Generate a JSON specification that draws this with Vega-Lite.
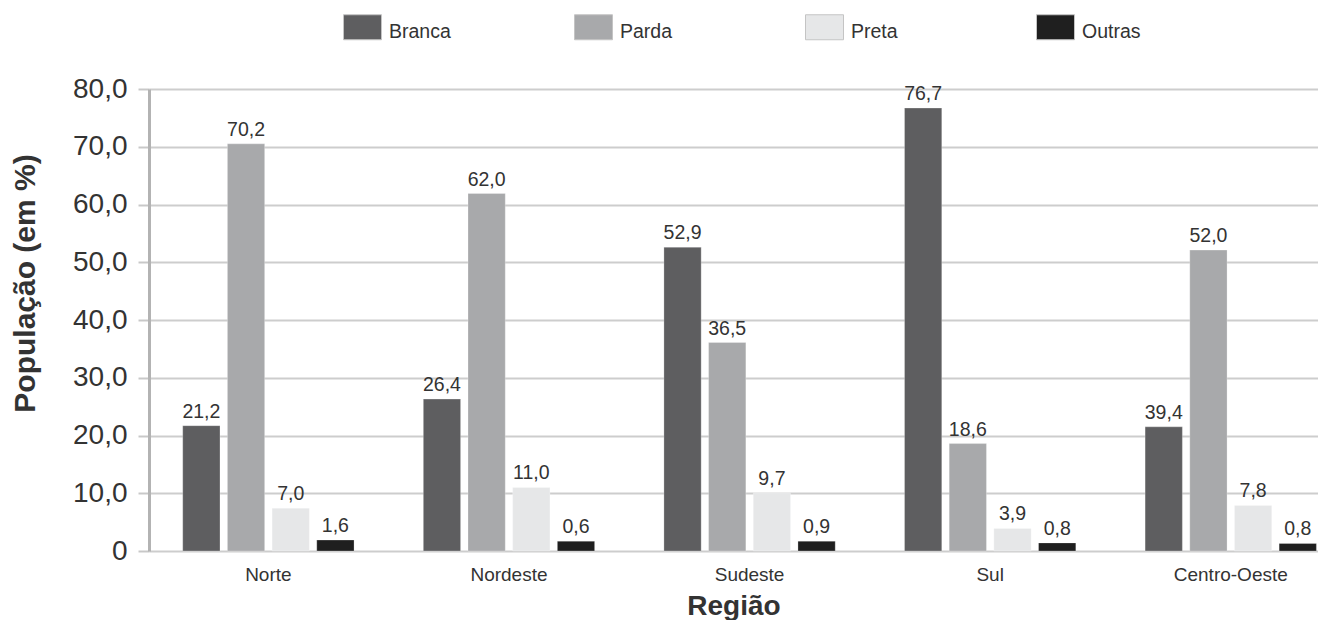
{
  "$schema": "https://vega.github.io/schema/vega-lite/v6.json",
  "width": 1169,
  "height": 462,
  "autosize": {"type": "none"},
  "padding": {"left": 149, "top": 89, "right": 0, "bottom": 69},
  "background": "white",
  "data": {
    "values": [
      {"regiao": "Norte", "cor": "Branca", "valor": 21.7, "rotulo": "21,2"},
      {"regiao": "Norte", "cor": "Parda", "valor": 70.5, "rotulo": "70,2"},
      {"regiao": "Norte", "cor": "Preta", "valor": 7.4, "rotulo": "7,0"},
      {"regiao": "Norte", "cor": "Outras", "valor": 1.9, "rotulo": "1,6"},
      {"regiao": "Nordeste", "cor": "Branca", "valor": 26.3, "rotulo": "26,4"},
      {"regiao": "Nordeste", "cor": "Parda", "valor": 61.9, "rotulo": "62,0"},
      {"regiao": "Nordeste", "cor": "Preta", "valor": 11.0, "rotulo": "11,0"},
      {"regiao": "Nordeste", "cor": "Outras", "valor": 1.7, "rotulo": "0,6"},
      {"regiao": "Sudeste", "cor": "Branca", "valor": 52.6, "rotulo": "52,9"},
      {"regiao": "Sudeste", "cor": "Parda", "valor": 36.1, "rotulo": "36,5"},
      {"regiao": "Sudeste", "cor": "Preta", "valor": 10.1, "rotulo": "9,7"},
      {"regiao": "Sudeste", "cor": "Outras", "valor": 1.7, "rotulo": "0,9"},
      {"regiao": "Sul", "cor": "Branca", "valor": 76.7, "rotulo": "76,7"},
      {"regiao": "Sul", "cor": "Parda", "valor": 18.6, "rotulo": "18,6"},
      {"regiao": "Sul", "cor": "Preta", "valor": 3.9, "rotulo": "3,9"},
      {"regiao": "Sul", "cor": "Outras", "valor": 1.4, "rotulo": "0,8"},
      {"regiao": "Centro-Oeste", "cor": "Branca", "valor": 21.5, "rotulo": "39,4"},
      {"regiao": "Centro-Oeste", "cor": "Parda", "valor": 52.1, "rotulo": "52,0"},
      {"regiao": "Centro-Oeste", "cor": "Preta", "valor": 7.9, "rotulo": "7,8"},
      {"regiao": "Centro-Oeste", "cor": "Outras", "valor": 1.3, "rotulo": "0,8"}
    ]
  },
  "encoding": {
    "x": {
      "field": "regiao",
      "type": "nominal",
      "sort": ["Norte", "Nordeste", "Sudeste", "Sul", "Centro-Oeste"],
      "scale": {"paddingInner": 0.288, "paddingOuter": 0.0734, "align": 0.955, "round": false},
      "axis": {
        "title": "Região",
        "titleFont": "Liberation Sans",
        "titleFontWeight": "bold",
        "titleFontSize": 28,
        "titleColor": "#333333",
        "titlePadding": 8,
        "labelFont": "Liberation Sans",
        "labelFontSize": 19,
        "labelColor": "#333333",
        "labelAngle": 0,
        "labelPadding": 14,
        "domain": false,
        "ticks": false,
        "grid": false
      }
    },
    "xOffset": {
      "field": "cor",
      "type": "nominal",
      "sort": ["Branca", "Parda", "Preta", "Outras"],
      "scale": {"paddingInner": 0.166, "paddingOuter": 0, "round": false}
    },
    "y": {
      "field": "valor",
      "type": "quantitative",
      "scale": {"domain": [0, 80], "nice": false},
      "axis": {
        "title": "População (em %)",
        "titleFont": "Liberation Sans",
        "titleFontWeight": "bold",
        "titleFontSize": 30,
        "titleColor": "#333333",
        "titleAngle": -90,
        "titleX": -124,
        "titleY": 194,
        "titleAlign": "center",
        "titleBaseline": "middle",
        "values": [0, 10, 20, 30, 40, 50, 60, 70, 80],
        "labelExpr": "datum.value == 0 ? '0' : replace(format(datum.value, '.1f'), '.', ',')",
        "labelFont": "Liberation Sans",
        "labelFontSize": 28,
        "labelColor": "#333333",
        "labelPadding": 11,
        "tickSize": 11,
        "tickColor": "#c8c8c8",
        "tickWidth": 2,
        "domainColor": "#b3b3b3",
        "domainWidth": 3,
        "grid": true,
        "gridColor": "#cdcdcd",
        "gridWidth": 2
      }
    }
  },
  "layer": [
    {
      "mark": {"type": "bar", "stroke": "#ffffff", "strokeOpacity": 0.25, "strokeWidth": 1},
      "encoding": {
        "color": {
          "field": "cor",
          "type": "nominal",
          "sort": ["Branca", "Parda", "Preta", "Outras"],
          "scale": {
            "domain": ["Branca", "Parda", "Preta", "Outras"],
            "range": ["#5e5e60", "#a8a9ab", "#e6e7e8", "#1f1f1f"]
          },
          "legend": {
            "title": null,
            "orient": "none",
            "direction": "horizontal",
            "legendX": 200.5,
            "legendY": -75,
            "padding": 0,
            "columns": 4,
            "gridAlign": "all",
            "columnPadding": 121,
            "symbolType": "M-1.52,-1H1.52V1H-1.52Z",
            "symbolSize": 625,
            "symbolStrokeColor": "#c4c4c4",
            "symbolStrokeWidth": 1,
            "symbolOpacity": 1,
            "labelFont": "Liberation Sans",
            "labelFontSize": 19.5,
            "labelColor": "#333333",
            "labelOffset": 13.5,
            "labelBaseline": "middle",
            "encode": {"labels": {"update": {"dy": {"value": 4.5}}}}
          }
        }
      }
    },
    {
      "mark": {
        "type": "text",
        "baseline": "alphabetic",
        "dy": -8,
        "font": "Liberation Sans",
        "fontSize": 19.5,
        "color": "#333333"
      },
      "encoding": {
        "text": {"field": "rotulo", "type": "nominal"}
      }
    }
  ],
  "config": {
    "view": {"stroke": null}
  }
}
